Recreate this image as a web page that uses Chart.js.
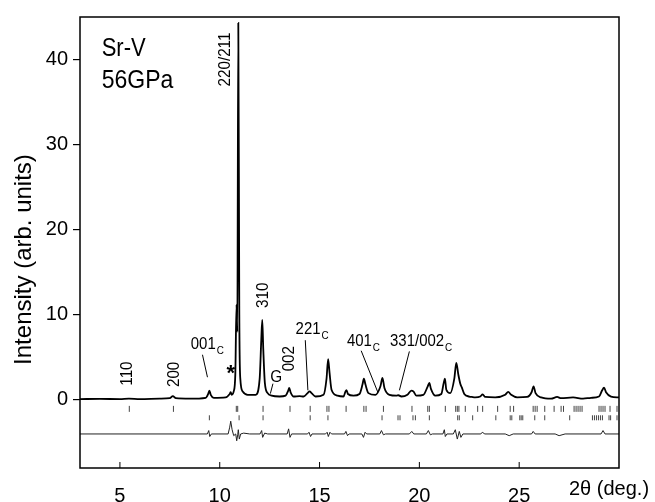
<!DOCTYPE html>
<html>
<head>
<meta charset="utf-8">
<script src="https://cdn.jsdelivr.net/npm/chart.js@4.4.0/dist/chart.umd.min.js"></script>
<style>
  body { margin: 0; background: #fff; }
</style>
</head>
<body>
<canvas id="xrd-chart" width="655" height="502"></canvas>
<script>
const twoTheta = [3.0, 4.0, 5.0, 5.45, 6.0, 7.0, 7.5, 7.65, 7.8, 8.5, 9.3, 9.42, 9.48, 9.55, 9.7,
  10.3, 10.5, 10.55, 10.6, 10.7, 10.78, 10.84, 10.88, 10.93, 10.98, 11.03, 11.15, 11.4, 11.8,
  12.0, 12.08, 12.13, 12.18, 12.26, 12.4, 12.6, 13.0, 13.3, 13.43, 13.48, 13.55, 13.7, 14.0,
  14.2, 14.4, 14.5, 14.6, 14.8, 15.2, 15.35, 15.43, 15.5, 15.6, 15.9, 16.2, 16.3, 16.35, 16.42,
  16.7, 17.0, 17.15, 17.22, 17.3, 17.45, 17.8, 18.05, 18.15, 18.25, 18.5, 18.85, 18.95, 19.1,
  19.4, 19.6, 19.7, 19.85, 20.2, 20.42, 20.5, 20.58, 20.8, 21.1, 21.22, 21.28, 21.35, 21.55,
  21.75, 21.85, 21.95, 22.05, 22.12, 22.25, 22.5, 22.63, 22.8, 23.05, 23.17, 23.3, 23.8, 24.3,
  24.45, 24.6, 24.9, 25.4, 25.62, 25.72, 25.82, 26.1, 26.6, 26.9, 27.1, 27.7, 28.2, 28.6, 29.0,
  29.15, 29.25, 29.35, 29.6, 30.0];
const intensity = [0.1, 0.12, 0.1, 0.15, 0.1, 0.15, 0.2, 0.45, 0.2, 0.15, 0.25, 0.7, 1.1, 0.6, 0.25,
  0.3, 0.7, 0.9, 0.6, 1.0, 3.0, 11.2, 8.0, 44.3, 10.0, 2.5, 1.0, 0.6, 0.6,
  2.5, 7.0, 9.4, 6.0, 2.0, 0.8, 0.5, 0.4, 0.5, 1.1, 1.4, 0.9, 0.4, 0.45,
  0.4, 0.8, 1.0, 0.8, 0.4, 0.6, 2.5, 4.8, 3.2, 1.2, 0.5, 0.4, 1.0, 1.15, 0.7,
  0.5, 0.7, 1.8, 2.5, 1.8, 0.8, 0.6, 1.6, 2.6, 1.4, 0.6, 0.5, 0.55, 0.4,
  0.6, 1.1, 1.0, 0.5, 0.6, 1.6, 2.0, 1.3, 0.5, 0.7, 2.0, 2.5, 1.2, 0.8,
  2.5, 4.35, 3.0, 1.9, 1.5, 0.7, 0.4, 0.35, 0.3, 0.4, 0.65, 0.35, 0.3, 0.6,
  0.95, 0.6, 0.3, 0.35, 0.9, 1.6, 0.8, 0.3, 0.15, 0.35, 0.2, 0.3, 0.15, 0.25, 0.4,
  1.1, 1.45, 0.9, 0.4, 0.3];

// difference curve, offset to -4
const diffTheta = [3.0, 9.38, 9.45, 9.5, 9.58, 10.42, 10.5, 10.55, 10.62, 10.7, 10.8, 10.85, 10.9,
  10.93, 10.98, 11.05, 11.2, 11.5, 12.02, 12.1, 12.15, 12.25, 12.4, 13.38, 13.45, 13.52, 13.6,
  14.4, 14.47, 14.55, 14.62, 15.3, 15.38, 15.44, 15.52, 15.6, 16.25, 16.32, 16.4, 16.48, 17.12,
  17.2, 17.28, 17.36, 18.02, 18.1, 18.2, 18.3, 19.5, 19.62, 19.72, 20.35, 20.45, 20.55, 20.65,
  21.18, 21.25, 21.3, 21.38, 21.7, 21.8, 21.9, 22.0, 22.08, 22.18, 23.08, 23.15, 23.28, 24.3,
  24.5, 24.7, 25.62, 25.7, 25.8, 26.8, 27.0, 27.3, 29.1, 29.2, 29.3, 30.0];
const diffValue = [-4.0, -4.0, -3.6, -4.3, -4.0, -4.0, -3.2, -2.5, -3.5, -4.2, -4.0, -4.8, -4.1,
  -3.5, -4.6, -4.0, -3.9, -4.0, -4.0, -3.6, -4.4, -3.9, -4.0, -4.0, -3.4, -4.4, -4.0,
  -4.0, -3.8, -4.3, -4.0, -4.0, -3.8, -4.3, -3.8, -4.0, -4.0, -3.7, -4.2, -4.0, -4.0,
  -4.4, -3.8, -4.0, -4.0, -3.6, -4.1, -4.0, -4.0, -3.7, -4.0, -4.0, -3.6, -4.1, -4.0,
  -4.0, -3.5, -4.3, -4.0, -4.0, -3.5, -4.6, -3.7, -4.4, -4.0, -4.0, -3.8, -4.0, -4.0,
  -4.2, -4.0, -4.0, -3.7, -4.0, -4.0, -4.2, -4.0, -4.0, -3.6, -4.0, -4.0];

// reflection markers
const srVReflections = [5.47, 7.68, 10.83, 10.9, 12.17, 13.52, 14.53, 15.37, 15.47, 16.33, 17.22, 17.33,
  18.2, 19.63, 20.42, 20.5, 21.3, 21.82, 21.9, 21.98, 22.3, 22.92, 23.17, 23.92, 24.55, 24.72,
  25.7, 25.8, 25.9, 26.28, 26.75, 27.1, 27.22, 27.75, 27.85, 27.95, 28.05, 28.15, 29.0, 29.1,
  29.2, 29.3, 29.55, 29.9];
const secondReflections = [9.48, 10.97, 12.17, 14.53, 15.42, 18.13, 18.93, 19.03, 19.68, 19.8, 20.5,
  21.92, 22.0, 22.67, 23.83, 24.55, 24.63, 25.03, 25.1, 25.18, 25.78, 26.28, 27.53, 28.67,
  28.77, 28.87, 28.97, 29.07, 29.17, 29.5, 29.58, 29.9];
const srVMarkLevel = -1.05;
const secondMarkLevel = -2.1;

const xTickValues = [5, 10, 15, 20, 25];
const yTickValues = [0, 10, 20, 30, 40];

// text placed in data units
const rotatedLabels = [
  { text: '220/211', x: 10.28, y: 40.0 },
  { text: '110', x: 5.4, y: 3.1 },
  { text: '200', x: 7.75, y: 3.0 },
  { text: '310', x: 12.19, y: 12.3 },
  { text: '002', x: 13.52, y: 4.85 },
];
const flatLabels = [
  { text: '001', sub: 'C', x: 8.55, y: 6.0 },
  { text: '221', sub: 'C', x: 13.8, y: 7.72 },
  { text: '401', sub: 'C', x: 16.37, y: 6.36 },
  { text: '331/002', sub: 'C', x: 18.53, y: 6.36 },
];
const leaders = [
  [9.135, 5.31, 9.385, 2.67],
  [12.665, 1.91, 12.535, 0.74],
  [14.285, 7.02, 14.415, 1.13],
  [17.085, 5.78, 17.915, 0.93],
  [19.5, 5.7, 19.0, 1.13],
];

const FONT = 'Arial, "Liberation Sans", sans-serif';
Chart.defaults.font.family = FONT;
Chart.defaults.color = '#000';

function putText(ctx, text, px, py, size, rotated, squeeze, weight) {
  ctx.save();
  ctx.translate(px, py);
  if (rotated) ctx.rotate(-Math.PI / 2);
  ctx.scale(squeeze, 1);
  ctx.font = (weight || '') + ' ' + size + 'px ' + FONT;
  ctx.fillText(text, 0, 0);
  const w = ctx.measureText(text).width * squeeze;
  ctx.restore();
  return w;
}

const annotations = {
  id: 'annotations',
  afterDraw(chart) {
    const { ctx, chartArea: area, scales: { x, y } } = chart;
    ctx.save();
    ctx.strokeStyle = '#000';
    ctx.fillStyle = '#000';

    ctx.lineWidth = 1.5;
    ctx.strokeRect(area.left, area.top, area.right - area.left, area.bottom - area.top);

    // x ticks point inward
    ctx.lineWidth = 1;
    xTickValues.forEach(v => {
      const px = x.getPixelForValue(v);
      ctx.beginPath();
      ctx.moveTo(px, area.bottom);
      ctx.lineTo(px, area.bottom - 6);
      ctx.stroke();
    });

    leaders.forEach(l => {
      ctx.beginPath();
      ctx.moveTo(x.getPixelForValue(l[0]), y.getPixelForValue(l[1]));
      ctx.lineTo(x.getPixelForValue(l[2]), y.getPixelForValue(l[3]));
      ctx.stroke();
    });

    ctx.textAlign = 'center';
    ctx.textBaseline = 'middle';
    rotatedLabels.forEach(l => {
      putText(ctx, l.text, x.getPixelForValue(l.x), y.getPixelForValue(l.y), 16, true, 0.95);
    });
    putText(ctx, '*', x.getPixelForValue(10.55), y.getPixelForValue(3.0), 22, false, 1, 'bold');
    putText(ctx, 'G', x.getPixelForValue(12.83), y.getPixelForValue(2.7), 17, false, 0.9);

    // axis title
    putText(ctx, 'Intensity (arb. units)', area.left - 56, y.getPixelForValue(16.5), 24, true, 1);

    ctx.textAlign = 'left';
    ctx.textBaseline = 'alphabetic';
    flatLabels.forEach(l => {
      const px = x.getPixelForValue(l.x);
      const py = y.getPixelForValue(l.y);
      const w = putText(ctx, l.text, px, py, 17, false, 0.88);
      putText(ctx, l.sub, px + w + 1, py + 5, 11, false, 0.9);
    });

    putText(ctx, 'Sr-V', x.getPixelForValue(4.085), y.getPixelForValue(40.43), 25, false, 0.88);
    putText(ctx, '56GPa', x.getPixelForValue(4.085), y.getPixelForValue(36.6), 25, false, 0.92);

    ctx.textAlign = 'center';
    putText(ctx, '2\u03b8 (deg.)', x.getPixelForValue(29.5), area.bottom + 27, 20, false, 1);
    ctx.restore();
  }
};

const profile = twoTheta.map((t, i) => ({ x: t, y: intensity[i] }));
const difference = diffTheta.map((t, i) => ({ x: t, y: diffValue[i] }));
const srVMarks = srVReflections.map(t => ({ x: t, y: srVMarkLevel }));
const secondMarks = secondReflections.map(t => ({ x: t, y: secondMarkLevel }));

new Chart(document.getElementById('xrd-chart'), {
  type: 'line',
  data: {
    datasets: [
      { data: profile, borderColor: '#000', borderWidth: 1.8, pointRadius: 0, cubicInterpolationMode: 'monotone' },
      { data: difference, borderColor: '#222', borderWidth: 1, pointRadius: 0 },
      { type: 'scatter', data: srVMarks, pointStyle: 'line', pointRotation: 90, pointRadius: 3,
        pointBorderColor: '#444', pointBorderWidth: 1 },
      { type: 'scatter', data: secondMarks, pointStyle: 'line', pointRotation: 90, pointRadius: 2.5,
        pointBorderColor: '#444', pointBorderWidth: 1 },
    ],
  },
  options: {
    responsive: false,
    animation: false,
    events: [],
    layout: { padding: { top: 13, right: 36, left: 0, bottom: 0 } },
    plugins: { legend: { display: false }, tooltip: { enabled: false } },
    scales: {
      x: {
        type: 'linear',
        min: 3,
        max: 30,
        afterBuildTicks: s => { s.ticks = xTickValues.map(v => ({ value: v })); },
        afterFit: s => { s.height = 34; },
        grid: { display: false },
        border: { display: false },
        ticks: { font: { size: 20 }, padding: 8, maxRotation: 0 },
      },
      y: {
        min: -8,
        max: 45,
        afterBuildTicks: s => { s.ticks = yTickValues.map(v => ({ value: v })); },
        afterFit: s => { s.width = 80; },
        grid: { drawOnChartArea: false, tickLength: 7, color: '#000', lineWidth: 1.2 },
        border: { display: false },
        ticks: { font: { size: 20 }, padding: 5 },
      },
    },
  },
  plugins: [annotations],
});
</script>
</body>
</html>
